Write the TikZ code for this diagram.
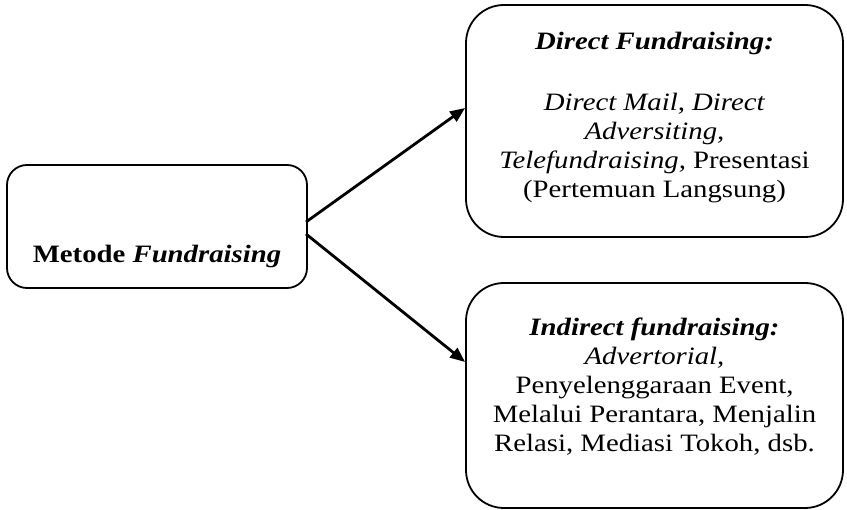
\documentclass[tikz,border=0pt]{standalone}
\usepackage{fontspec}
\setmainfont{Liberation Serif}[FakeStretch=1.15]
\usetikzlibrary{arrows.meta}
\tikzset{
  box/.style={draw, line width=1.8pt, inner sep=0pt},
  txt/.style={font=\fontsize{25}{29}\selectfont, align=center, inner sep=0pt},
  link/.style={line width=2.8pt, -{Triangle[length=15pt,width=12pt]}}
}
\begin{document}
\begin{tikzpicture}[x=1pt,y=-1pt]
\useasboundingbox (0,0) rectangle (847,510);
% boxes
\node[box, rounded corners=20pt, minimum width=300pt, minimum height=123pt] (left) at (157,226.5) {};
\node[box, rounded corners=38pt, minimum width=377pt, minimum height=232pt] (top) at (654.5,121) {};
\node[box, rounded corners=38pt, minimum width=377pt, minimum height=225pt] (bot) at (654.5,395.5) {};
% texts
\node[txt] (lt) at (157,256) {\textbf{Metode \textit{Fundraising}}};
\node[txt] (tt) at (654.5,43) {\textbf{\textit{Direct Fundraising:}}};
\node[txt, anchor=north] (tb) at (654.5,93) {\textit{Direct Mail, Direct}\\\textit{Adversiting,}\\\textit{Telefundraising,} Presentasi\\(Pertemuan Langsung)};
\node[txt, anchor=north] (bt) at (654.5,318) {\textbf{\textit{Indirect fundraising:}}\\\textit{Advertorial,}\\Penyelenggaraan Event,\\Melalui Perantara, Menjalin\\Relasi, Mediasi Tokoh, dsb.};
% connectors
\coordinate (s1) at (306,222);
\coordinate (s2) at (306,234);
\draw[link] (s1) -- (top.west |- 0,108) coordinate (e1);
\draw[link] (s2) -- (bot.west |- 0,362) coordinate (e2);
\end{tikzpicture}
\end{document}
